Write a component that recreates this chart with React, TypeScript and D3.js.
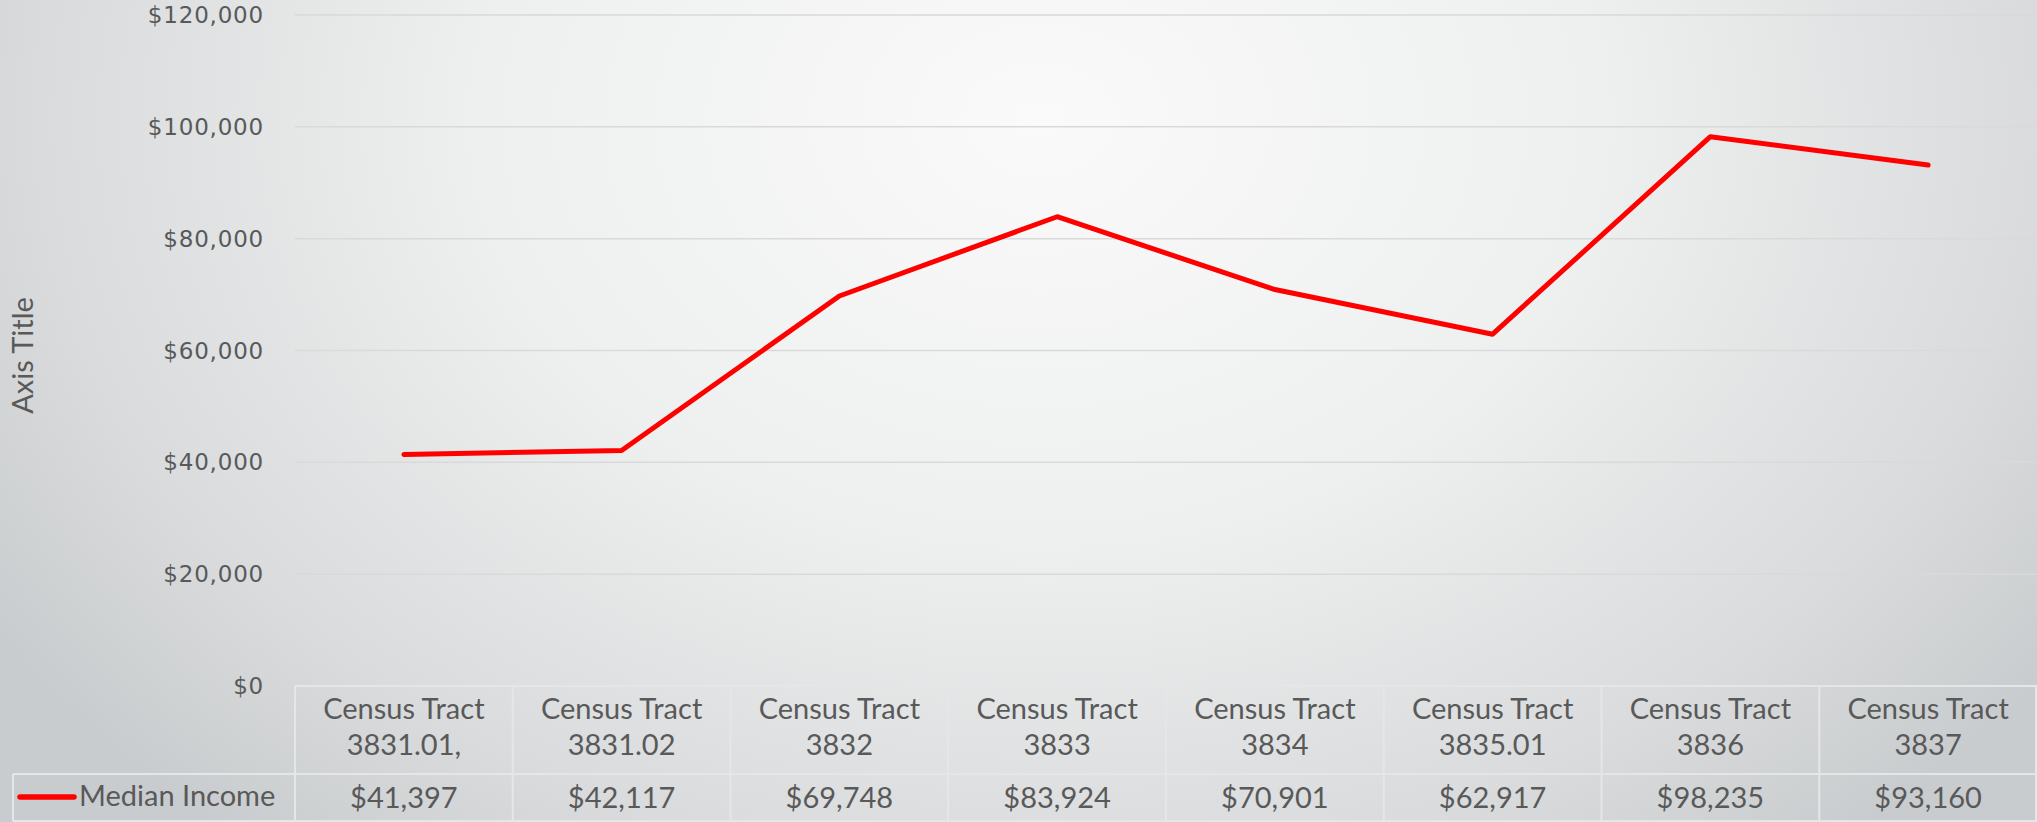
import React from "react";
import * as d3 from "d3";

const categoryLine1 = ["Census Tract", "Census Tract", "Census Tract", "Census Tract", "Census Tract", "Census Tract", "Census Tract", "Census Tract"];
const categoryLine2 = ["3831.01,", "3831.02", "3832", "3833", "3834", "3835.01", "3836", "3837"];
const medianIncome = [41397, 42117, 69748, 83924, 70901, 62917, 98235, 93160];
const yTicks = [0, 20000, 40000, 60000, 80000, 100000, 120000];
const seriesName = "Median Income";
const axisTitle = "Axis Title";

const W = 2037;
const H = 822;
const left = 295;
const right = 2037;
const top = 15;
const bottom = 686;
const rowSep = 774;
const tableBottom = 821;
const legendLeft = 13;

export default function App() {
  const cats = categoryLine2;
  const x = d3.scaleBand<string>().domain(cats).range([left, right]).padding(0);
  const y = d3.scaleLinear().domain([0, 120000]).range([bottom, top]);
  const line = d3
    .line<number>()
    .x((_, i) => (x(cats[i]) as number) + x.bandwidth() / 2)
    .y((d) => y(d));
  const fmt = d3.format("$,.0f");
  const textColor = "#595959";
  const tableFont = "Lato, 'Open Sans', sans-serif";
  const tickFont = "'DejaVu Sans', Verdana, sans-serif";
  const borderColor = "#e4e6e7";

  return (
    <svg width={W} height={H} style={{ position: "absolute", left: 0, top: 0 }}>
      <defs>
        <radialGradient id="bg" cx="1040" cy="120" r="1250" gradientUnits="userSpaceOnUse" gradientTransform="translate(1040 120) scale(1 0.75) translate(-1040 -120)">
          <stop offset="0" stopColor="#fafafa" />
          <stop offset="0.45" stopColor="#eeefef" />
          <stop offset="0.8" stopColor="#d9dbdc" />
          <stop offset="1" stopColor="#c9ccce" />
        </radialGradient>
      </defs>
      <rect x={0} y={0} width={W} height={H} fill="url(#bg)" />

      {/* gridlines */}
      {yTicks.map((t) => (
        <line key={t} x1={left} x2={right} y1={y(t)} y2={y(t)} stroke="#d9d9d9" strokeWidth={1.5} />
      ))}

      {/* y tick labels */}
      {yTicks.map((t) => (
        <text
          key={"l" + t}
          x={264}
          y={y(t)}
          dy="0.35em"
          textAnchor="end"
          fontFamily={tickFont}
          fontSize={23}
          letterSpacing={0.8}
          fill={textColor}
        >
          {fmt(t)}
        </text>
      ))}

      {/* axis title */}
      <text
        transform={`translate(33, ${(top + bottom) / 2 + 5}) rotate(-90)`}
        textAnchor="middle"
        fontFamily={tableFont}
        fontSize={29}
        fill={textColor}
      >
        {axisTitle}
      </text>

      {/* data table */}
      <g stroke={borderColor} strokeWidth={2} fill="none">
        <line x1={left} x2={right} y1={bottom} y2={bottom} />
        <line x1={legendLeft} x2={right} y1={rowSep} y2={rowSep} />
        <line x1={legendLeft} x2={right} y1={tableBottom} y2={tableBottom} />
        <line x1={legendLeft} x2={legendLeft} y1={rowSep} y2={tableBottom} />
        {cats.map((c) => (
          <line key={c} x1={x(c) as number} x2={x(c) as number} y1={bottom} y2={tableBottom} />
        ))}
        <line x1={right - 1} x2={right - 1} y1={bottom} y2={tableBottom} />
      </g>

      {cats.map((c, i) => {
        const cx = (x(c) as number) + x.bandwidth() / 2;
        return (
          <g key={"t" + c} fontFamily={tableFont} fontSize={29} fill={textColor} textAnchor="middle">
            <text x={cx} y={719}>{categoryLine1[i]}</text>
            <text x={cx} y={755}>{categoryLine2[i]}</text>
            <text x={cx} y={808}>{fmt(medianIncome[i])}</text>
          </g>
        );
      })}

      {/* legend key */}
      <line x1={20} x2={74} y1={797} y2={797} stroke="#ff0000" strokeWidth={5.5} strokeLinecap="round" />
      <text x={79} y={806} fontFamily={tableFont} fontSize={29} fill={textColor}>
        {seriesName}
      </text>

      {/* series line */}
      <path d={line(medianIncome) || ""} fill="none" stroke="#ff0000" strokeWidth={5} strokeLinecap="round" strokeLinejoin="round" />
    </svg>
  );
}
